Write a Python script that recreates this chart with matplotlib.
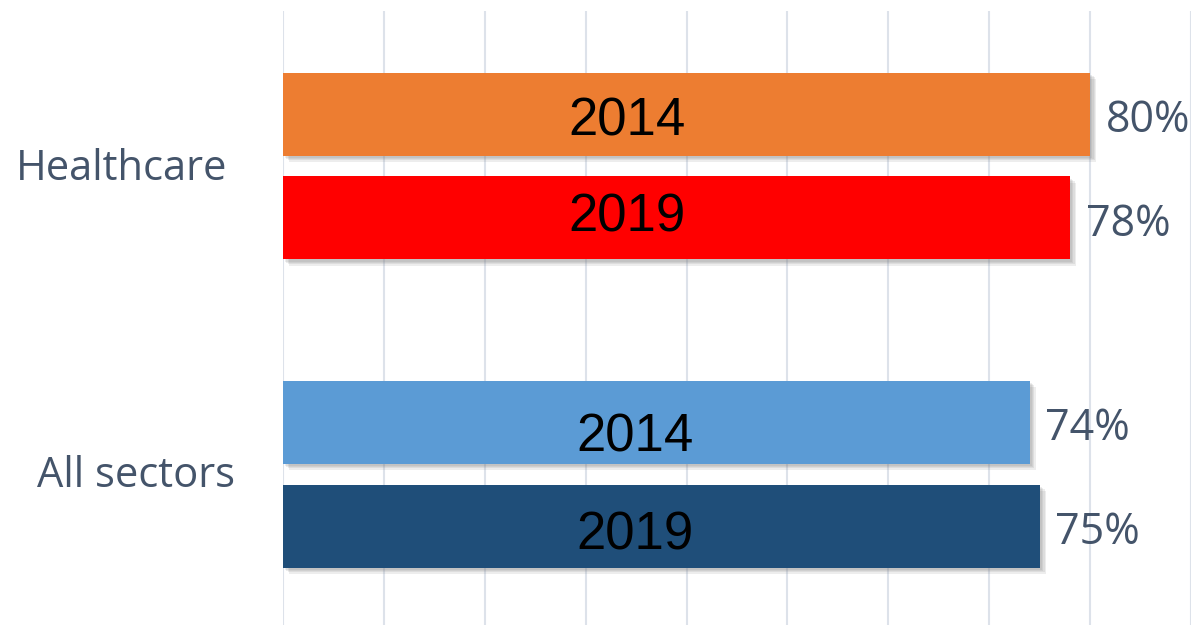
import matplotlib
matplotlib.use("Agg")
import matplotlib.pyplot as plt
import matplotlib.patheffects as pe
import matplotlib.transforms as mtransforms

# ---- data ----
categories = ["All sectors", "Healthcare"]
years = ["2014", "2019"]
values_2014 = [0.74, 0.80]
values_2019 = [0.75, 0.78]
colors_2014 = ["#5B9BD5", "#ED7D31"]
colors_2019 = ["#1F4E79", "#FF0000"]
value_labels_2014 = ["74%", "80%"]
value_labels_2019 = ["75%", "78%"]

# ---- layout ----
W, H, DPI = 1194, 625, 100
fig = plt.figure(figsize=(W / DPI, H / DPI), dpi=DPI)
ax_left, ax_right, ax_top = 283, 1191, 11
ax = fig.add_axes([ax_left / W, 0, (ax_right - ax_left) / W, 1 - ax_top / H])

unit = 308.0  # pixels per category step
bar_h = 83 / unit
off = 52 / unit
ypos = [0, 1]

shadow = [pe.SimplePatchShadow(offset=(d, -d), shadow_rgbFace="#777777", alpha=0.13)
          for d in (4.5, 3.5, 2.5, 1.5)] + [pe.Normal()]

for i, y in enumerate(ypos):
    b1 = ax.barh(y + off, values_2014[i], height=bar_h, color=colors_2014[i], zorder=3)
    b2 = ax.barh(y - off, values_2019[i], height=bar_h, color=colors_2019[i], zorder=3)
    for b in list(b1) + list(b2):
        b.set_path_effects(shadow)

ax.set_xlim(0, 0.9)
ax.set_ylim(-(625 - 474) / unit, 1 + (166 - 11) / unit)
ax.set_xticks([i / 10 for i in range(10)])
ax.grid(axis="x", color="#dde2ea", linewidth=1.5, zorder=0)
ax.set_axisbelow(True)
ax.tick_params(left=False, bottom=False, labelleft=False, labelbottom=False)
for s in ax.spines.values():
    s.set_visible(False)

label_color = "#44546A"
sans = ["Open Sans", "DejaVu Sans"]
fs_lab = 30
# value labels
val_dx = 0.0155
val_base = -18 / unit
for i, y in enumerate(ypos):
    ax.text(values_2014[i] + val_dx, y + off + val_base, value_labels_2014[i],
            ha="left", va="baseline", fontsize=31, color=label_color, family=sans)
    ax.text(values_2019[i] + val_dx, y - off + val_base, value_labels_2019[i],
            ha="left", va="baseline", fontsize=31, color=label_color, family=sans)

# year labels inside bars
year_x = [0.349, 0.341]
year_base_2014 = [-30 / unit, -21 / unit]
year_base_2019 = [-24 / unit, -13.5 / unit]
for i, y in enumerate(ypos):
    ax.text(year_x[i], y + off + year_base_2014[i], years[0], ha="center", va="baseline",
            fontsize=38, color="black", family=["Liberation Sans", "DejaVu Sans"], zorder=5)
    ax.text(year_x[i], y - off + year_base_2019[i], years[1], ha="center", va="baseline",
            fontsize=38, color="black", family=["Liberation Sans", "DejaVu Sans"], zorder=5)

# category labels
trans = mtransforms.blended_transform_factory(fig.transFigure, ax.transData)
cat_right = [235 / W, 227 / W]
cat_base = [-13 / unit, -14 / unit]
for i, y in enumerate(ypos):
    fig.text(cat_right[i], y + cat_base[i], categories[i], transform=trans,
             ha="right", va="baseline", fontsize=fs_lab, color=label_color, family=sans)

fig.savefig("out.png", dpi=DPI)
